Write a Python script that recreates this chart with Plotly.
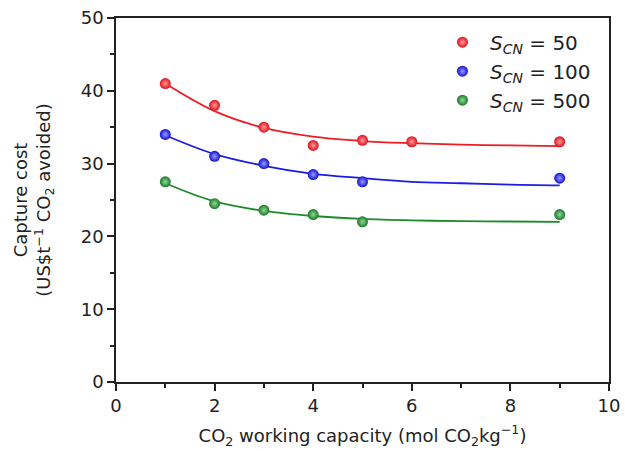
import plotly.graph_objects as go

# Measured capture cost for each selectivity S_CN
capacity = [1, 2, 3, 4, 5, 6, 9]
cost_s50 = [41.0, 38.0, 35.0, 32.5, 33.2, 33.0, 33.0]
capacity_b = [1, 2, 3, 4, 5, 9]
cost_s100 = [34.0, 31.0, 30.0, 28.5, 27.5, 28.0]
cost_s500 = [27.5, 24.5, 23.6, 23.0, 22.0, 23.0]

# Fitted trend lines (read at unit steps of working capacity)
fit_x = [1, 2, 3, 4, 5, 6, 7, 8, 9]
fit_s50 = [41.0, 37.2, 34.9, 33.7, 33.1, 32.8, 32.6, 32.5, 32.4]
fit_s100 = [33.9, 31.3, 29.7, 28.6, 28.0, 27.5, 27.3, 27.1, 27.0]
fit_s500 = [27.3, 24.8, 23.5, 22.8, 22.4, 22.2, 22.1, 22.05, 22.0]

labels = ["<i>S</i><sub><i>CN</i></sub> = 50",
          "<i>S</i><sub><i>CN</i></sub> = 100",
          "<i>S</i><sub><i>CN</i></sub> = 500"]

line_colors = ["#ee1c24", "#1c1ce6", "#1f8a2a"]
marker_colors = ["#e0101a", "#1010d0", "#1a7a24"]
highlight = ["#ff9a9a", "#9a9aff", "#8fd69a"]

fig = go.Figure()

for fx, fy, col in zip([fit_x] * 3, [fit_s50, fit_s100, fit_s500], line_colors):
    fig.add_trace(go.Scatter(x=fx, y=fy, mode="lines", line=dict(color=col, width=1.8, shape="spline"),
                             showlegend=False, hoverinfo="skip"))

for xs, ys, lab, mc, hl in zip([capacity, capacity_b, capacity_b],
                               [cost_s50, cost_s100, cost_s500],
                               labels, marker_colors, highlight):
    fig.add_trace(go.Scatter(x=xs, y=ys, mode="markers", name=lab,
                             marker=dict(size=11, color=mc,
                                         gradient=dict(type="radial", color=hl),
                                         line=dict(width=0))))

axis_font = dict(family="DejaVu Sans, sans-serif", size=18, color="#222")

fig.update_layout(
    width=625, height=451,
    margin=dict(l=116, r=16, t=18, b=69),
    paper_bgcolor="white", plot_bgcolor="white",
    font=axis_font,
    legend=dict(x=0.647, y=0.987, xanchor="left", yanchor="top",
                bgcolor="rgba(0,0,0,0)", font=dict(size=20, color="#222"),
                itemwidth=45, tracegroupgap=0),
    xaxis=dict(range=[0, 10], tickmode="linear", tick0=0, dtick=2, automargin=False,
               showline=True, linecolor="#222", linewidth=1.5, mirror=True,
               ticks="outside", ticklen=7, tickwidth=1.5, tickcolor="#222",
               minor=dict(dtick=1, ticks="outside", ticklen=4, tickwidth=1.5, tickcolor="#222"),
               showgrid=False, zeroline=False,
               title=dict(text="CO<sub>2</sub> working capacity (mol CO<sub>2</sub>kg<sup>\u22121</sup>)",
                          font=dict(size=18), standoff=14)),
    yaxis=dict(range=[0, 50], tickmode="linear", tick0=0, dtick=10, automargin=False,
               showline=True, linecolor="#222", linewidth=1.5, mirror=True,
               ticks="outside", ticklen=7, tickwidth=1.5, tickcolor="#222",
               minor=dict(dtick=5, ticks="outside", ticklen=4, tickwidth=1.5, tickcolor="#222"),
               showgrid=False, zeroline=False,
               title=dict(text="Capture cost<br>(US$t<sup>\u22121</sup> CO<sub>2</sub> avoided)",
                          font=dict(size=18), standoff=25)),
)

fig.write_html("out.html")
